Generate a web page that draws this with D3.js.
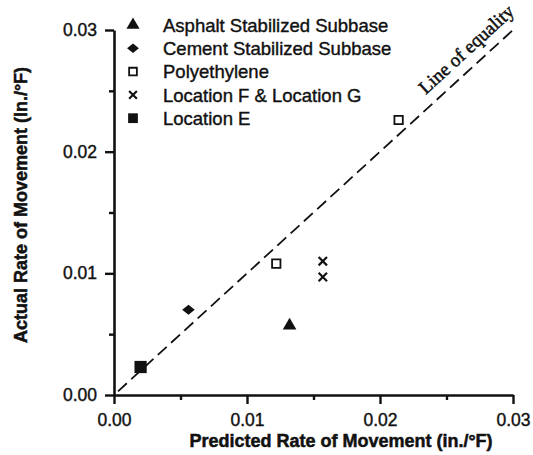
<!DOCTYPE html>
<html>
<head>
<meta charset="utf-8">
<script src="https://cdn.jsdelivr.net/npm/d3@7"></script>
<style>
  html, body { margin: 0; padding: 0; background: #fff; }
  svg { display: block; }
</style>
</head>
<body>
<div id="chart"></div>
<script>
// series names in legend order
const seriesNames = [
  "Asphalt Stabilized Subbase",
  "Cement Stabilized Subbase",
  "Polyethylene",
  "Location F & Location G",
  "Location E"
];

// values (in./°F)
const asphaltPred = [0.0132];
const asphaltAct = [0.0057];
const cementPred = [0.0056];
const cementAct = [0.0070];
const polyPred = [0.0122, 0.0214];
const polyAct = [0.0108, 0.0226];
const locFGPred = [0.0157, 0.0157];
const locFGAct = [0.0110, 0.0097];
const locEPred = [0.0020];
const locEAct = [0.0023];

const equalityLine = [0.0003, 0.0300];

const majorTicks = [0, 0.01, 0.02, 0.03];
const minorTicks = [0.005, 0.015, 0.025];

const width = 533;
const height = 455;
const margin = { top: 30, right: 20, bottom: 60, left: 114 };

const svg = d3.select("#chart")
  .append("svg")
  .attr("width", width)
  .attr("height", height)
  .style("background", "#fff");

const x = d3.scaleLinear().domain([0, 0.03]).range([margin.left, width - margin.right]);
const y = d3.scaleLinear().domain([0, 0.03]).range([height - margin.bottom, margin.top]);

const font = "'Liberation Sans', Arial, Helvetica, sans-serif";

// custom "x" marker
const symbolCrossX = {
  draw(ctx, size) {
    const r = Math.sqrt(size) / 2;
    ctx.moveTo(-r, -r); ctx.lineTo(r, r);
    ctx.moveTo(r, -r); ctx.lineTo(-r, r);
  }
};

// wide diamond (the original's is a bit flatter than d3's)
const symbolWideDiamond = {
  draw(ctx, size) {
    const w = Math.sqrt(size) * 0.75;
    const h = w * 0.8;
    ctx.moveTo(0, -h); ctx.lineTo(w, 0); ctx.lineTo(0, h); ctx.lineTo(-w, 0); ctx.closePath();
  }
};

// marker style per series
const markers = [
  { type: d3.symbolTriangle, size: 80, fill: "#111", stroke: "none" },
  { type: symbolWideDiamond, size: 70, fill: "#111", stroke: "none" },
  { type: d3.symbolSquare, size: 70, fill: "#fff", stroke: "#111", sw: 1.8 },
  { type: symbolCrossX, size: 70, fill: "none", stroke: "#111", sw: 2.2 },
  { type: d3.symbolSquare, size: 150, fill: "#111", stroke: "none" }
];

const seriesData = [
  d3.zip(asphaltPred, asphaltAct),
  d3.zip(cementPred, cementAct),
  d3.zip(polyPred, polyAct),
  d3.zip(locFGPred, locFGAct),
  d3.zip(locEPred, locEAct)
];

// axes
function styleAxis(g) {
  g.select(".domain").attr("stroke", "#111").attr("stroke-width", 2.6);
  g.selectAll(".tick line").attr("stroke", "#111").attr("stroke-width", 2.4);
  g.selectAll(".tick text")
    .attr("fill", "#111")
    .attr("stroke", "#111")
    .attr("stroke-width", 0.4)
    .style("font-family", font)
    .style("font-size", "17.5px");
}

svg.append("g")
  .attr("transform", `translate(0,${y(0)})`)
  .call(d3.axisBottom(x).tickValues(majorTicks).tickSize(9).tickSizeOuter(0).tickPadding(10).tickFormat(d3.format(".2f")))
  .call(styleAxis);

svg.append("g")
  .attr("transform", `translate(0,${y(0)})`)
  .call(d3.axisBottom(x).tickValues(minorTicks).tickSize(5).tickSizeOuter(0).tickFormat(""))
  .call(styleAxis)
  .call(g => g.select(".domain").remove());

svg.append("g")
  .attr("transform", `translate(${x(0)},0)`)
  .call(d3.axisLeft(y).tickValues(majorTicks).tickSize(9).tickSizeOuter(0).tickPadding(8).tickFormat(d3.format(".2f")))
  .call(styleAxis);

svg.append("g")
  .attr("transform", `translate(${x(0)},0)`)
  .call(d3.axisLeft(y).tickValues(minorTicks).tickSize(5).tickSizeOuter(0).tickFormat(""))
  .call(styleAxis)
  .call(g => g.select(".domain").remove());

// axis titles
svg.append("text")
  .attr("x", 341)
  .attr("y", 447)
  .attr("text-anchor", "middle")
  .style("font-family", font)
  .style("font-size", "18px")
  .style("font-weight", "bold")
  .attr("fill", "#111")
  .attr("stroke", "#111")
  .attr("stroke-width", 0.5)
  .text("Predicted Rate of Movement (in./°F)");

svg.append("text")
  .attr("transform", `translate(27,205) rotate(-90)`)
  .attr("text-anchor", "middle")
  .style("font-family", font)
  .style("font-size", "18px")
  .style("font-weight", "bold")
  .attr("fill", "#111")
  .attr("stroke", "#111")
  .attr("stroke-width", 0.5)
  .text("Actual Rate of Movement (In./°F)");

// line of equality
svg.append("line")
  .attr("x1", x(equalityLine[0])).attr("y1", y(equalityLine[0]))
  .attr("x2", x(equalityLine[1])).attr("y2", y(equalityLine[1]))
  .attr("stroke", "#111")
  .attr("stroke-width", 1.8)
  .attr("stroke-dasharray", "12,6");

const angle = Math.atan2(y(0) - y(0.01), x(0.01) - x(0)) * 180 / Math.PI;
svg.append("text")
  .attr("transform", `translate(${x(0.0240)},${y(0.0240)}) rotate(${-angle})`)
  .attr("y", -11)
  .style("font-family", "'Liberation Serif', 'Times New Roman', serif")
  .style("font-size", "19px")
  .attr("fill", "#111")
  .attr("stroke", "#111")
  .attr("stroke-width", 0.5)
  .text("Line of equality");

// points
seriesData.forEach((pts, i) => {
  const m = markers[i];
  svg.append("g")
    .selectAll("path")
    .data(pts)
    .join("path")
    .attr("transform", d => `translate(${x(d[0])},${y(d[1])})`)
    .attr("d", d3.symbol().type(m.type).size(m.size))
    .attr("fill", m.fill)
    .attr("stroke", m.stroke)
    .attr("stroke-width", m.sw || 0);
});

// legend
const legend = svg.append("g").attr("transform", "translate(133,25)");
const legendSizes = [75, 62, 60, 60, 95];
seriesNames.forEach((name, i) => {
  const m = markers[i];
  const row = legend.append("g").attr("transform", `translate(0,${i * 23.3})`);
  row.append("path")
    .attr("d", d3.symbol().type(m.type).size(legendSizes[i]))
    .attr("fill", m.fill)
    .attr("stroke", m.stroke)
    .attr("stroke-width", m.sw || 0);
  row.append("text")
    .attr("x", 30)
    .attr("dy", "0.36em")
    .style("font-family", font)
    .style("font-size", "18.5px")
    .attr("fill", "#111")
    .attr("stroke", "#111")
    .attr("stroke-width", 0.4)
    .text(name);
});
</script>
</body>
</html>
